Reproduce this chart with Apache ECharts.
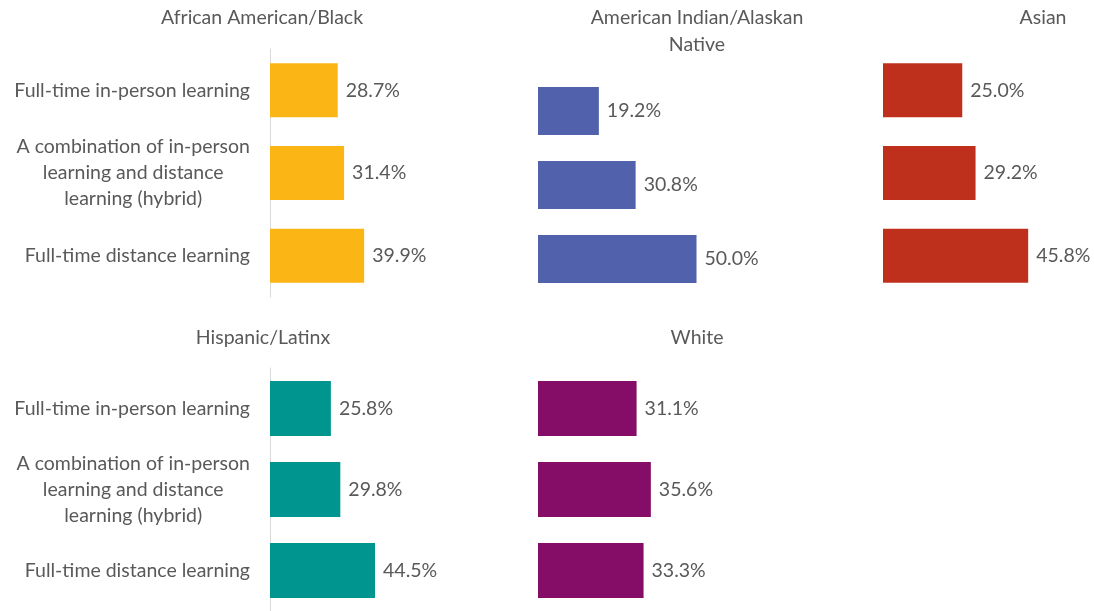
<!DOCTYPE html>
<html>
<head>
<meta charset="utf-8">
<script src="https://cdn.jsdelivr.net/npm/echarts@6/dist/echarts.min.js"></script>
<style>
  html, body { margin: 0; padding: 0; background: #fff; }
  #chart { width: 1094px; height: 611px; }
</style>
</head>
<body>
<div id="chart"></div>
<script>
const categories = [
  'Full-time in-person learning',
  'A combination of in-person\nlearning and distance\nlearning (hybrid)',
  'Full-time distance learning'
];
const groupTitles = ['African American/Black', 'American Indian/Alaskan\nNative', 'Asian', 'Hispanic/Latinx', 'White'];
const blackValues = [28.7, 31.4, 39.9];
const nativeValues = [19.2, 30.8, 50.0];
const asianValues = [25.0, 29.2, 45.8];
const hispanicValues = [25.8, 29.8, 44.5];
const whiteValues = [31.1, 35.6, 33.3];

const FONT = 'Lato';
const FS = 19.5;
const TXT = '#595959';

const panels = [
  { title: groupTitles[0], values: blackValues, color: '#FBB616', grid: { left: 270, top: 49, height: 248, width: 141.6 }, barWidth: 54, showCats: true, axisLine: true, tx: 262, ty: 18 },
  { title: groupTitles[1], values: nativeValues, color: '#5261AC', grid: { left: 538, top: 74, height: 222, width: 190.2 }, barWidth: 48, showCats: false, axisLine: false, tx: 697, ty: 31 },
  { title: groupTitles[2], values: asianValues, color: '#BF301C', grid: { left: 883, top: 49, height: 248, width: 190.2 }, barWidth: 54, showCats: false, axisLine: false, tx: 1043, ty: 18 },
  { title: groupTitles[3], values: hispanicValues, color: '#00968F', grid: { left: 270, top: 368, height: 248, width: 141.6 }, barWidth: 55, showCats: true, axisLine: true, tx: 263, ty: 338 },
  { title: groupTitles[4], values: whiteValues, color: '#850D67', grid: { left: 538, top: 368, height: 248, width: 190.2 }, barWidth: 55, showCats: false, axisLine: false, tx: 697, ty: 338 }
];

function catFormatter(v) {
  const lines = v.split('\n');
  if (lines.length === 1) return v;
  return lines.map(l => '{c|' + l + '}').join('\n');
}

const option = {
  animation: false,
  backgroundColor: '#ffffff',
  grid: panels.map(p => Object.assign({ containLabel: false }, p.grid)),
  xAxis: panels.map((p, i) => ({
    type: 'value', gridIndex: i, min: 0, max: 60, show: false
  })),
  yAxis: panels.map((p, i) => ({
    type: 'category', gridIndex: i, data: categories, inverse: true,
    axisLine: { show: p.axisLine, lineStyle: { color: '#D9D9D9', width: 1 } },
    axisTick: { show: false },
    splitLine: { show: false },
    axisLabel: {
      show: p.showCats, color: TXT, fontFamily: FONT, fontSize: FS, margin: 20,
      align: 'right', lineHeight: 26, formatter: catFormatter,
      rich: { c: { align: 'center', color: TXT, fontFamily: FONT, fontSize: FS, lineHeight: 26 } }
    }
  })),
  series: panels.map((p, i) => ({
    type: 'bar', xAxisIndex: i, yAxisIndex: i, data: p.values, barWidth: p.barWidth,
    itemStyle: { color: p.color },
    label: {
      show: true, position: 'right', distance: 8, color: TXT, fontFamily: FONT, fontSize: FS,
      formatter: d => d.value.toFixed(1) + '%'
    }
  })),
  graphic: panels.map(p => ({
    type: 'text', x: p.tx, y: p.ty,
    style: { text: p.title, align: 'center', verticalAlign: 'middle', fill: TXT, font: FS + 'px ' + FONT, lineHeight: 27 }
  }))
};

echarts.init(document.getElementById('chart'), null, { renderer: 'canvas' }).setOption(option);
</script>
</body>
</html>
